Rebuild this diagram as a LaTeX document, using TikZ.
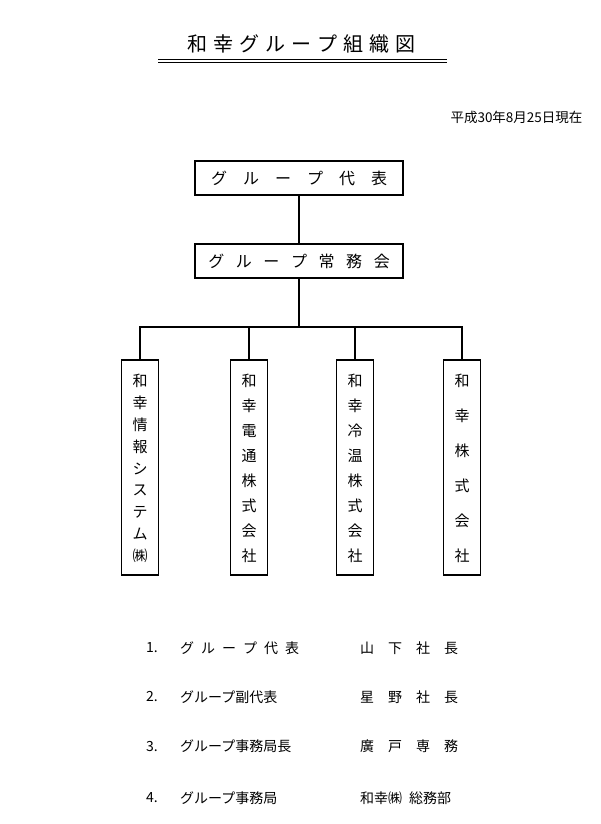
\documentclass[tikz,border=0pt]{standalone}
\usepackage{fontspec}
\setmainfont{Noto Sans CJK JP}
\usetikzlibrary{positioning}
\newcommand{\vlabel}[4]{% x, first y, step, chars
  \foreach \ch [count=\k] in {#4}
    \node[font=\fontsize{15}{15}\selectfont] at (#1,{#2+(\k-1)*#3}) {\ch};}
\begin{document}
\begin{tikzpicture}[x=1pt,y=-1pt]
\tikzset{
  hbox/.style={draw, line width=1.6pt, minimum width=208pt, minimum height=34pt,
    inner sep=0pt, font=\fontsize{16}{16}\selectfont},
  vbox/.style={draw, line width=1.6pt, minimum width=37pt, minimum height=215pt, inner sep=0pt},
  link/.style={line width=1.6pt},
  item/.style={anchor=west, inner sep=0pt, font=\fontsize{14}{14}\selectfont}
}
\useasboundingbox (0,0) rectangle (600,824);

  % title
  \node[font=\fontsize{20}{20}\selectfont] (title) at (301,44) {和\kern.3em 幸\kern.3em グ\kern.3em ル\kern.3em ー\kern.3em プ\kern.3em 組\kern.3em 織\kern.3em 図};
  \draw[line width=0.8pt] (158,59) -- (447,59);
  \draw[line width=0.8pt] (158,62) -- (447,62);
  \node[anchor=east, font=\fontsize{13.5}{13.5}\selectfont] (date) at (586,117) {平成30年8月25日現在};

  % boxes
  \node[hbox] (rep) at (299,178) {グ\quad ル\quad ー\quad プ\quad 代\quad 表};
  \node[hbox] (board) at (299,261) {グ\enspace\ ル\enspace\ ー\enspace\ プ\enspace\ 常\enspace\ 務\enspace\ 会};
  \node[vbox] (c1) at (140,467.5) {};
  \node[vbox] (c2) at (249,467.5) {};
  \node[vbox] (c3) at (355,467.5) {};
  \node[vbox] (c4) at (462,467.5) {};
  \coordinate (hub) at (299,327);

  \draw[link] (rep) -- (board);
  \draw[link] (board) -- (hub);
  \draw[link] (c1.north) |- (hub) -| (c4.north);
  \draw[link] (c2.north) -- (c2.north |- hub);
  \draw[link] (c3.north) -- (c3.north |- hub);

  \vlabel{140}{381}{21.9}{和,幸,情,報,シ,ス,テ,ム,㈱}
  \vlabel{249}{381}{25}{和,幸,電,通,株,式,会,社}
  \vlabel{355}{381}{25}{和,幸,冷,温,株,式,会,社}
  \vlabel{462}{381}{35}{和,幸,株,式,会,社}

  % list
  \node[item] (n1) at (146,648) {1.};
  \node[item] (n2) at (146,697) {2.};
  \node[item] (n3) at (146,746) {3.};
  \node[item] (n4) at (146,798) {4.};
  \node[item] (r1) at (180,648) {グ\enspace ル\enspace ー\enspace プ\enspace 代\enspace 表};
  \node[item] (r2) at (180,697) {グループ副代表};
  \node[item] (r3) at (180,746) {グループ事務局長};
  \node[item] (r4) at (180,798) {グループ事務局};
  \node[item] (p1) at (360,648) {山\quad 下\quad 社\quad 長};
  \node[item] (p2) at (360,697) {星\quad 野\quad 社\quad 長};
  \node[item] (p3) at (360,746) {廣\quad 戸\quad 専\quad 務};
  \node[item] (p4) at (360,798) {和幸㈱\enspace 総務部};
\end{tikzpicture}
\end{document}
